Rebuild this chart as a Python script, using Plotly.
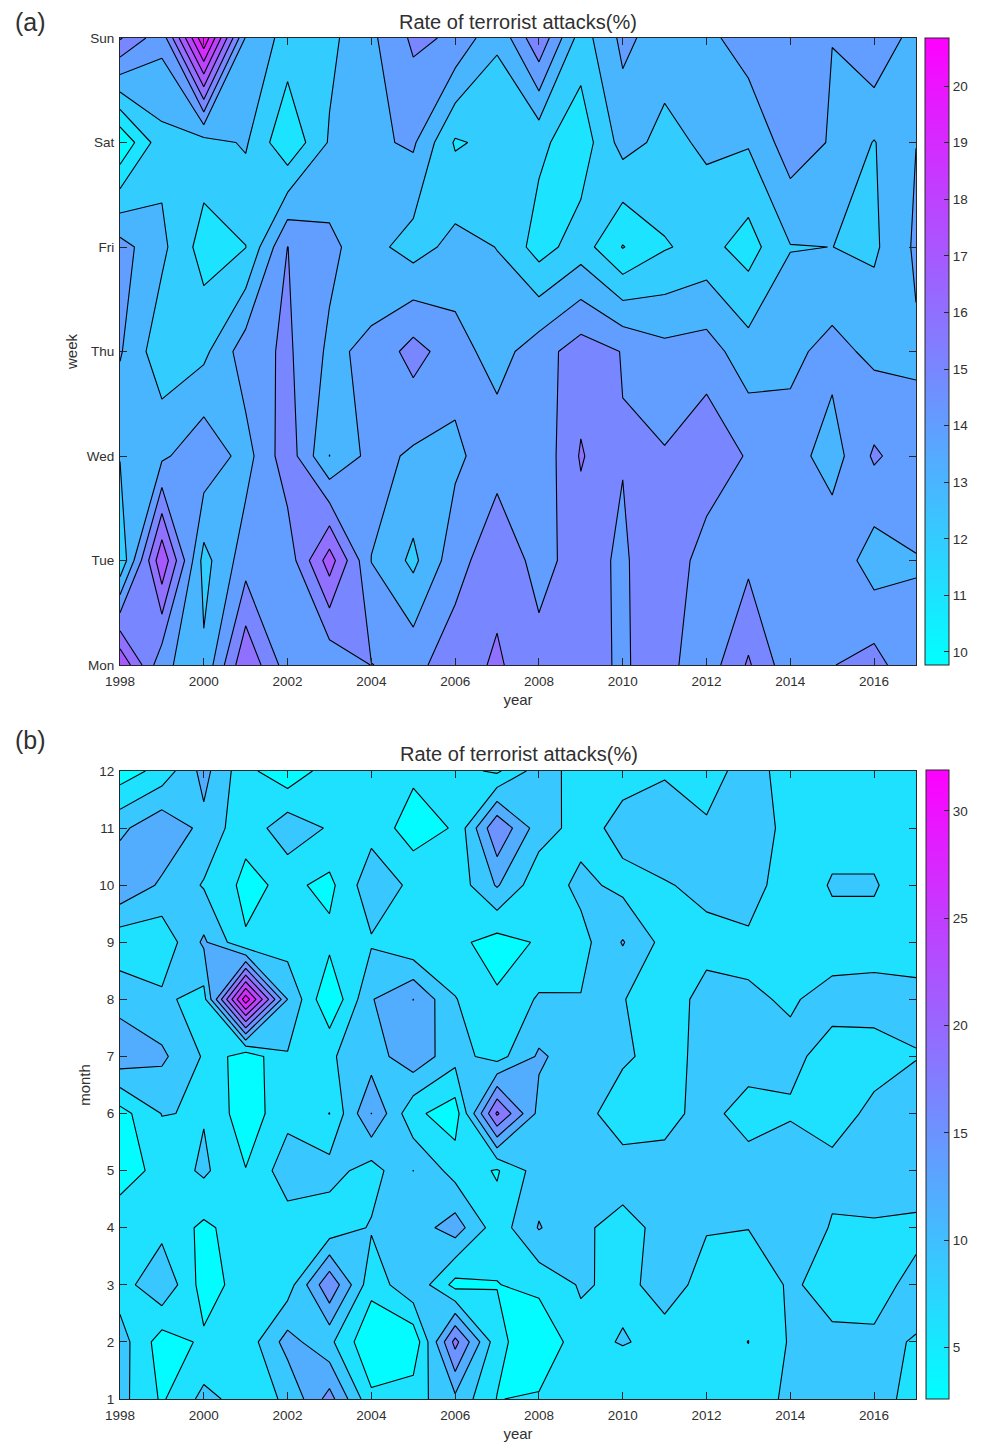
import numpy as np
import plotly.graph_objects as go

# the page adds 8 px around the figure
PAGE_PAD = 8
W, H = 984 - PAGE_PAD, 1446 - PAGE_PAD
FONT = "Liberation Sans, Arial, sans-serif"
years = list(range(1998, 2018))
year_ticks = list(range(1998, 2017, 2))
week_labels = ["Mon", "Tue", "Wed", "Thu", "Fri", "Sat", "Sun"]
months = list(range(1, 13))
title_text = "Rate of terrorist attacks(%)"

# Panel (a): one list per year, Mon..Sun
w1998 = [17.9, 12.1, 13.05, 14.1, 14.4, 10.1, 16.1]
w1999 = [14.3, 17.8, 13.8, 12.33, 13.24, 12.67, 14.32]
w2000 = [13.2, 12.63, 14.75, 12.75, 11.56, 12.6, 20.85]
w2001 = [16.87, 14.55, 13.6, 14.55, 11.98, 13.12, 13.9]
w2002 = [14.5, 14.38, 15.6, 15.18, 15.01, 11.16, 12.6]
w2003 = [14.2, 17.5, 12.99, 13.8, 14.27, 13.1, 12.75]
w2004 = [15.02, 13.98, 14.35, 14.22, 13.33, 13.81, 13.79]
w2005 = [14.7, 12.77, 13.84, 15.39, 12.57, 14.15, 15.19]
w2006 = [15.55, 14.6, 13.78, 14.42, 13.32, 11.88, 14.86]
w2007 = [16.14, 15.68, 14.62, 13.57, 12.98, 12.28, 13.14]
w2008 = [15.33, 14.67, 14.24, 14.57, 11.57, 12.23, 15.82]
w2009 = [15.2, 15.42, 16.1, 15.49, 12.5, 11.4, 12.5]
w2010 = [14.93, 14.83, 15.05, 14.96, 10.95, 13.4, 14.25]
w2011 = [15.3, 15.9, 15.08, 14.3, 11.92, 12.7, 13.5]
w2012 = [14.42, 14.42, 15.8, 14.45, 12.33, 13.18, 13.7]
w2013 = [16.13, 14.76, 14.88, 13.42, 11.57, 13.09, 14.57]
w2014 = [14.31, 14.6, 14.45, 13.75, 12.96, 14.55, 14.8]
w2015 = [14.96, 14.79, 13.53, 14.33, 13.005, 13.9, 14.01]
w2016 = [15.4, 13.45, 15.15, 13.75, 12.82, 12.95, 14.95]
w2017 = [14.15, 13.97, 14.4, 13.85, 14.17, 13.99, 13.5]

# Panel (b): one list per year, month 1..12
m1998 = [10, 10.4, 7.5, 8, 4.5, 4.8, 14, 11, 7, 14.5, 11.3, 4.3]
m1999 = [5.6, 4.5, 11.6, 8, 7, 9.1, 12.6, 9.6, 6.9, 11.5, 14.3, 7.1]
m2000 = [9.85, 6.5, 4.7, 5.4, 9.55, 8.8, 8.7, 7.9, 12.5, 8.75, 11.15, 13]
m2001 = [7.8, 7.2, 7.3, 7.5, 6.1, 4.2, 3.96, 31.9, 6.3, 5.2, 6.94, 6.9]
m2002 = [9.36, 13.2, 7.4, 7.5, 10.7, 8.08, 8.7, 12, 7.45, 6.7, 11, 3.8]
m2003 = [16.2, 9.7, 17.5, 7, 10.2, 5.95, 8.7, 3.2, 6.8, 5.2, 8.66, 7.5]
m2004 = [6.65, 3.4, 7, 9.3, 7.7, 15.05, 10.5, 11.8, 8.66, 11, 7.9, 7.5]
m2005 = [7.7, 3.6, 11.5, 10.4, 12.02, 6.7, 14.06, 15.02, 6.35, 8.3, 4.47, 6.66]
m2006 = [11.3, 19, 5, 13.5, 7.8, 4.4, 10.1, 9.15, 6.74, 7.1, 6.3, 7]
m2007 = [5.9, 7.1, 5.9, 7.3, 5.7, 21.5, 7.8, 6.4, 4.8, 12.3, 17.7, 5.5]
m2008 = [6.45, 3.05, 6.9, 12.2, 10.5, 11.05, 12.45, 9.37, 6.3, 7, 10.4, 10.5]
m2009 = [7, 8.1, 9.29, 9.5, 10, 10.2, 10.4, 9.14, 7.93, 9.83, 7.8, 7.7]
m2010 = [6.3, 9.2, 8.4, 8, 10.5, 7.2, 9.5, 9.07, 12.2, 8.15, 9.96, 8]
m2011 = [7, 8.2, 9.84, 9.87, 9.75, 8.36, 7.8, 8.1, 8, 8.84, 10.5, 8.72]
m2012 = [7, 7, 8.33, 9.11, 10, 9.7, 10, 9.6, 8.43, 9.5, 9.6, 7]
m2013 = [7, 5.97, 7, 9.07, 10, 8.04, 10.08, 9.26, 8.5, 10.25, 11, 11]
m2014 = [9.8, 9.3, 9.4, 10.8, 10.5, 8.77, 9.45, 8.8, 7.5, 7.4, 7.9, 7]
m2015 = [10, 9.55, 8, 8.8, 9.62, 8.1, 8.3, 9.63, 8.1, 9.22, 8.1, 7.5]
m2016 = [9.8, 9.27, 8.4, 8.7, 10.46, 9.5, 8.2, 9.8, 8.1, 9.22, 8.1, 7.5]
m2017 = [8.3, 8.92, 9.5, 8.56, 10.2, 11.1, 8.84, 9.92, 7.5, 7.4, 7.5, 7.5]

week_cols = [w1998, w1999, w2000, w2001, w2002, w2003, w2004, w2005, w2006, w2007,
             w2008, w2009, w2010, w2011, w2012, w2013, w2014, w2015, w2016, w2017]
month_cols = [m1998, m1999, m2000, m2001, m2002, m2003, m2004, m2005, m2006, m2007,
              m2008, m2009, m2010, m2011, m2012, m2013, m2014, m2015, m2016, m2017]
z_week = np.array(week_cols).T
z_month = np.array(month_cols).T

COOL = [[0, "#00ffff"], [1, "#ff00ff"]]
TXT = "#303030"
AXC = "#262626"

wk_min, wk_max, wk_start, wk_end, wk_step = 9.77, 20.85, 10, 20, 1
mo_min, mo_max, mo_start, mo_end, mo_step = 2.6, 31.9, 3, 30, 3
wk_ticks = list(range(10, 21))
mo_ticks = [5, 10, 15, 20, 25, 30]


def fx(p):
    return (p - PAGE_PAD) / W


def fy(p):
    return 1 - (p - PAGE_PAD) / H


def cool(t):
    t = min(max(t, 0.0), 1.0)
    return "rgb(%d,%d,255)" % (round(255 * t), round(255 * (1 - t)))


def band_scale(vmin, vmax, start, end, step):
    # Plotly spreads the scale over the bands; each band here takes the colour of its lower level
    n = int(round((end - start) / step)) + 1
    stops = [[0, "rgb(0,255,255)"]]
    for k in range(n):
        stops.append([(k + 1) / n, cool((start + k * step - vmin) / (vmax - vmin))])
    return stops


def panel(fig, z, y, xa, ya, vmin, vmax, start, end, step):
    fig.add_trace(go.Contour(
        x=years, y=y, z=z, xaxis=xa, yaxis=ya,
        colorscale=band_scale(vmin, vmax, start, end, step), showscale=False, autocontour=False,
        contours=dict(start=start, end=end, size=step, coloring="fill", showlines=True),
        line=dict(color="black", width=1.1, smoothing=0),
    ))


def cbar(fig, xa, ya, vmin, vmax, ticks, left, top, bottom, width):
    fig.add_trace(go.Scatter(
        x=[None, None], y=[None, None], xaxis=xa, yaxis=ya, mode="markers",
        showlegend=False, hoverinfo="skip",
        marker=dict(color=[vmin, vmax], cmin=vmin, cmax=vmax, colorscale=COOL, showscale=True,
                    colorbar=dict(
                        x=fx(left), xanchor="left", xpad=0, ypad=0,
                        y=fy(top), yanchor="top", len=(bottom - top) / H, lenmode="fraction",
                        thickness=width, thicknessmode="pixels",
                        tickvals=ticks, ticks="inside", ticklen=5, tickcolor=AXC, tickwidth=1,
                        tickfont=dict(family=FONT, size=13.5, color=TXT),
                        outlinecolor=AXC, outlinewidth=1, borderwidth=0)),
    ))


fig = go.Figure()
panel(fig, z_week, list(range(1, 8)), "x", "y", wk_min, wk_max, wk_start, wk_end, wk_step)
panel(fig, z_month, months, "x2", "y2", mo_min, mo_max, mo_start, mo_end, mo_step)
cbar(fig, "x", "y", wk_min, wk_max, wk_ticks, 925, 38, 665, 24)
cbar(fig, "x2", "y2", mo_min, mo_max, mo_ticks, 926, 770, 1399, 23)

ax = dict(showgrid=False, zeroline=False, showline=True, mirror="ticks", linecolor=AXC, linewidth=1,
          ticks="inside", ticklen=7, tickcolor=AXC, tickwidth=1, automargin=False,
          tickfont=dict(family=FONT, size=13.5, color=TXT))
xdom = [fx(120), fx(916)]
tfont = dict(family=FONT, size=15, color=TXT)
fig.update_layout(
    width=W, height=H, margin=dict(l=0, r=0, t=0, b=0, autoexpand=False),
    paper_bgcolor="white", plot_bgcolor="white", showlegend=False,
    xaxis=dict(ax, domain=xdom, range=[1998, 2017], tickvals=year_ticks, anchor="y", ticklabelstandoff=4,
               title=dict(text="year", font=tfont, standoff=6)),
    yaxis=dict(ax, domain=[fy(665), fy(38)], range=[1, 7], tickvals=list(range(1, 8)),
               ticktext=week_labels, anchor="x", ticklabelstandoff=2,
               title=dict(text="week", font=tfont, standoff=5)),
    xaxis2=dict(ax, domain=xdom, range=[1998, 2017], tickvals=year_ticks, anchor="y2", ticklabelstandoff=4,
                title=dict(text="year", font=tfont, standoff=6)),
    yaxis2=dict(ax, domain=[fy(1399), fy(771)], range=[1, 12], tickvals=months, anchor="x2", ticklabelstandoff=2,
                title=dict(text="month", font=tfont, standoff=5)),
    annotations=[
        dict(text=title_text, x=fx(518), y=fy(22), xref="paper", yref="paper", showarrow=False,
             font=dict(family=FONT, size=20, color=TXT), xanchor="center", yanchor="middle"),
        dict(text=title_text, x=fx(519), y=fy(754), xref="paper", yref="paper", showarrow=False,
             font=dict(family=FONT, size=20, color=TXT), xanchor="center", yanchor="middle"),
        dict(text="(a)", x=fx(13), y=fy(22.5), xref="paper", yref="paper", showarrow=False,
             font=dict(family=FONT, size=25, color=TXT), xanchor="left", yanchor="middle"),
        dict(text="(b)", x=fx(13), y=fy(740), xref="paper", yref="paper", showarrow=False,
             font=dict(family=FONT, size=25, color=TXT), xanchor="left", yanchor="middle"),
    ],
)
fig.write_html("out.html")
